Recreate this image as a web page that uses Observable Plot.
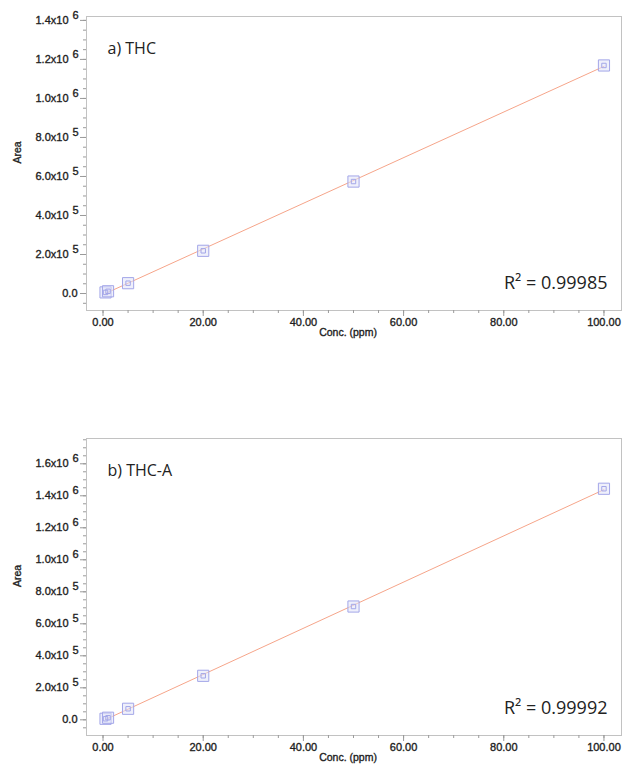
<!DOCTYPE html>
<html><head><meta charset="utf-8">
<script src="https://cdn.jsdelivr.net/npm/d3@7"></script>
<script src="https://cdn.jsdelivr.net/npm/@observablehq/plot@0.6"></script>
<style>
body{margin:0;background:#fff;}
#c{position:relative;width:623px;height:769px;overflow:hidden;}
#c > svg{position:absolute;left:0;}
</style>
</head><body><div id="c"></div>
<script>
// Data
const conc = [0.5, 1, 5, 20, 50, 100];
const areaTHC = [5800, 11500, 53000, 219000, 574000, 1169000];
const areaTHCA = [6500, 13000, 69000, 275000, 708000, 1444000];

// Tick labels
const xTicks = [0, 20, 40, 60, 80, 100];
const xTickLabels = ["0.00", "20.00", "40.00", "60.00", "80.00", "100.00"];
const yTicksA = [0, 2e5, 4e5, 6e5, 8e5, 1e6, 1.2e6, 1.4e6];
const yMantA = ["0.0", "2.0x10", "4.0x10", "6.0x10", "8.0x10", "1.0x10", "1.2x10", "1.4x10"];
const yExpA = ["", "5", "5", "5", "5", "6", "6", "6"];
const yTicksB = [0, 2e5, 4e5, 6e5, 8e5, 1e6, 1.2e6, 1.4e6, 1.6e6];
const yMantB = ["0.0", "2.0x10", "4.0x10", "6.0x10", "8.0x10", "1.0x10", "1.2x10", "1.4x10", "1.6x10"];
const yExpB = ["", "5", "5", "5", "5", "6", "6", "6", "6"];

const titles = ["a) THC", "b) THC-A"];
const r2Labels = ["R\u00B2 = 0.99985", "R\u00B2 = 0.99992"];
const xLabel = "Conc. (ppm)";
const yLabel = "Area";

const tickFont = "'Liberation Sans', Arial, sans-serif";
const textFont = "'Open Sans', 'Noto Sans', sans-serif";
const ink = "#1e1e1e";
const thick = {fill: ink, stroke: ink, strokeWidth: 0.35};

function chart({area, yTicks, yMant, yExp, yDomain, title, r2, height, marginTop, marginBottom}) {
  const pts = conc.map((c, i) => ({c, a: area[i]}));
  const yRows = yTicks.map((v, i) => ({v, m: yMant[i], e: yExp[i]}));
  const xRows = xTicks.map((v, i) => ({v, t: xTickLabels[i]}));
  const xMinor = d3.range(0, 101, 5);
  const yMinor = d3.range(-5e4, yDomain[1], 5e4);
  return Plot.plot({
    width: 623, height, marginTop, marginBottom, marginLeft: 86, marginRight: 2,
    style: {fontFamily: tickFont, fontSize: "11px", background: "transparent", overflow: "visible"},
    x: {domain: [-3.3, 103.5], axis: null},
    y: {domain: yDomain, axis: null},
    marks: [
      Plot.frame({stroke: "#c2c2c2"}),
      Plot.axisX(xMinor, {tickSize: 3, tickFormat: () => "", stroke: "#9a9a9a"}),
      Plot.axisX(xTicks, {tickSize: 6, tickFormat: () => "", stroke: "#9a9a9a"}),
      Plot.text(xRows, {x: "v", text: "t", frameAnchor: "bottom", dy: 15, fontSize: 11, ...thick}),
      Plot.axisY(yMinor, {tickSize: 3, tickFormat: () => "", stroke: "#9a9a9a"}),
      Plot.axisY(yTicks, {tickSize: 6, tickFormat: () => "", stroke: "#9a9a9a"}),
      Plot.text(yRows.filter(d => d.e), {y: "v", text: "m", frameAnchor: "left", textAnchor: "end", dx: -18, fontSize: 11, ...thick}),
      Plot.text(yRows.filter(d => d.e), {y: "v", text: "e", frameAnchor: "left", textAnchor: "start", dx: -14, dy: -5, fontSize: 11, ...thick}),
      Plot.text(yRows.filter(d => !d.e), {y: "v", text: "m", frameAnchor: "left", textAnchor: "end", dx: -9, fontSize: 11, ...thick}),
      Plot.text([xLabel], {frameAnchor: "bottom", dy: 25, dx: -6, fontSize: 10.5, ...thick}),
      Plot.text([yLabel], {frameAnchor: "left", dx: -69, rotate: -90, fontSize: 10.5, ...thick}),
      Plot.linearRegressionY(pts, {x: "c", y: "a", stroke: "#f6a58a", strokeWidth: 1, ci: 0}),
      Plot.dot(pts, {x: "c", y: "a", symbol: "square", r: 6.3, stroke: "#a3a6e8", fill: "#e2e3f8", fillOpacity: 0.55, strokeWidth: 1}),
      Plot.dot(pts, {x: "c", y: "a", symbol: "square", r: 2.5, stroke: "#a3a6e8", fill: "none", strokeWidth: 1}),
      Plot.text([title], {frameAnchor: "top-left", dx: 21, dy: 26, textAnchor: "start", fontFamily: textFont, fontSize: 16, fill: "#222"}),
      Plot.text([r2], {frameAnchor: "bottom-right", dx: -14, dy: -22, textAnchor: "end", fontFamily: textFont, fontSize: 18, fill: "#222"})
    ]
  });
}

const c = document.getElementById("c");
const a = chart({area: areaTHC, yTicks: yTicksA, yMant: yMantA, yExp: yExpA, yDomain: [-0.087e6, 1.42e6],
  title: titles[0], r2: r2Labels[0], height: 345, marginTop: 16, marginBottom: 35});
a.style.top = "0px";
c.appendChild(a);
const b = chart({area: areaTHCA, yTicks: yTicksB, yMant: yMantB, yExp: yExpB, yDomain: [-0.098e6, 1.758e6],
  title: titles[1], r2: r2Labels[1], height: 349, marginTop: 18, marginBottom: 34});
b.style.top = "420px";
c.appendChild(b);
</script>
</body></html>
